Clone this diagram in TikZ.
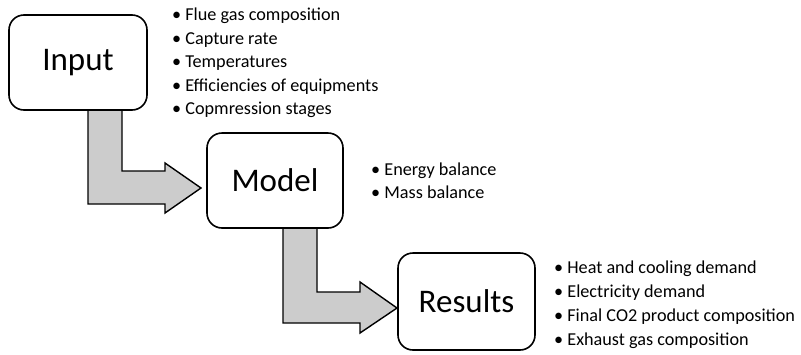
\documentclass[tikz,border=0pt]{standalone}
\usepackage{fontspec}
\setmainfont{Carlito}
\begin{document}
\begin{tikzpicture}[x=1pt,y=-1pt,
  box/.style={draw=black,line width=1.6pt,rounded corners=15pt,fill=white,inner sep=0pt},
  big/.style={font=\fontsize{33}{36}\selectfont},
  bul/.style={anchor=base west,inner sep=0pt,font=\fontsize{18.2}{20}\selectfont},
  fatarrow/.style={draw=black,line width=1.4pt,fill=black!20,line join=miter}]
\useasboundingbox (0,0) rectangle (801,354);
% arrows
\draw[fatarrow] (88,109) -- (88,204) -- (165,204) -- (165,213) -- (201,188) -- (165,163) -- (165,171) -- (122,171) -- (122,109) -- cycle;
\draw[fatarrow] (283,227) -- (283,323) -- (360,323) -- (360,333) -- (397,308) -- (360,282) -- (360,292) -- (317,292) -- (317,227) -- cycle;
% boxes
\node[box,minimum width=138pt,minimum height=95pt] (input) at (78,62.5) {};
\node[big] (inputt) at (78,62.5) {Input};
\node[box,minimum width=136pt,minimum height=95pt] (model) at (275,180.5) {};
\node[big] (modelt) at (275,180.5) {Model};
\node[box,minimum width=137pt,minimum height=97pt] (results) at (466.5,301.5) {};
\node[big] (resultst) at (466.5,301.5) {Results};
% lists
\node[bul] (i1) at (172,20) {• Flue gas composition};
\node[bul] (i2) at (172,44) {• Capture rate};
\node[bul] (i3) at (172,67) {• Temperatures};
\node[bul] (i4) at (172,91) {• Efficiencies of equipments};
\node[bul] (i5) at (172,114) {• Copmression stages};
\node[bul] (m1) at (371,175) {• Energy balance};
\node[bul] (m2) at (371,198) {• Mass balance};
\node[bul] (r1) at (554,273) {• Heat and cooling demand};
\node[bul] (r2) at (554,297) {• Electricity demand};
\node[bul] (r3) at (554,321) {• Final CO2 product composition};
\node[bul] (r4) at (554,345) {• Exhaust gas composition};
\end{tikzpicture}
\end{document}
